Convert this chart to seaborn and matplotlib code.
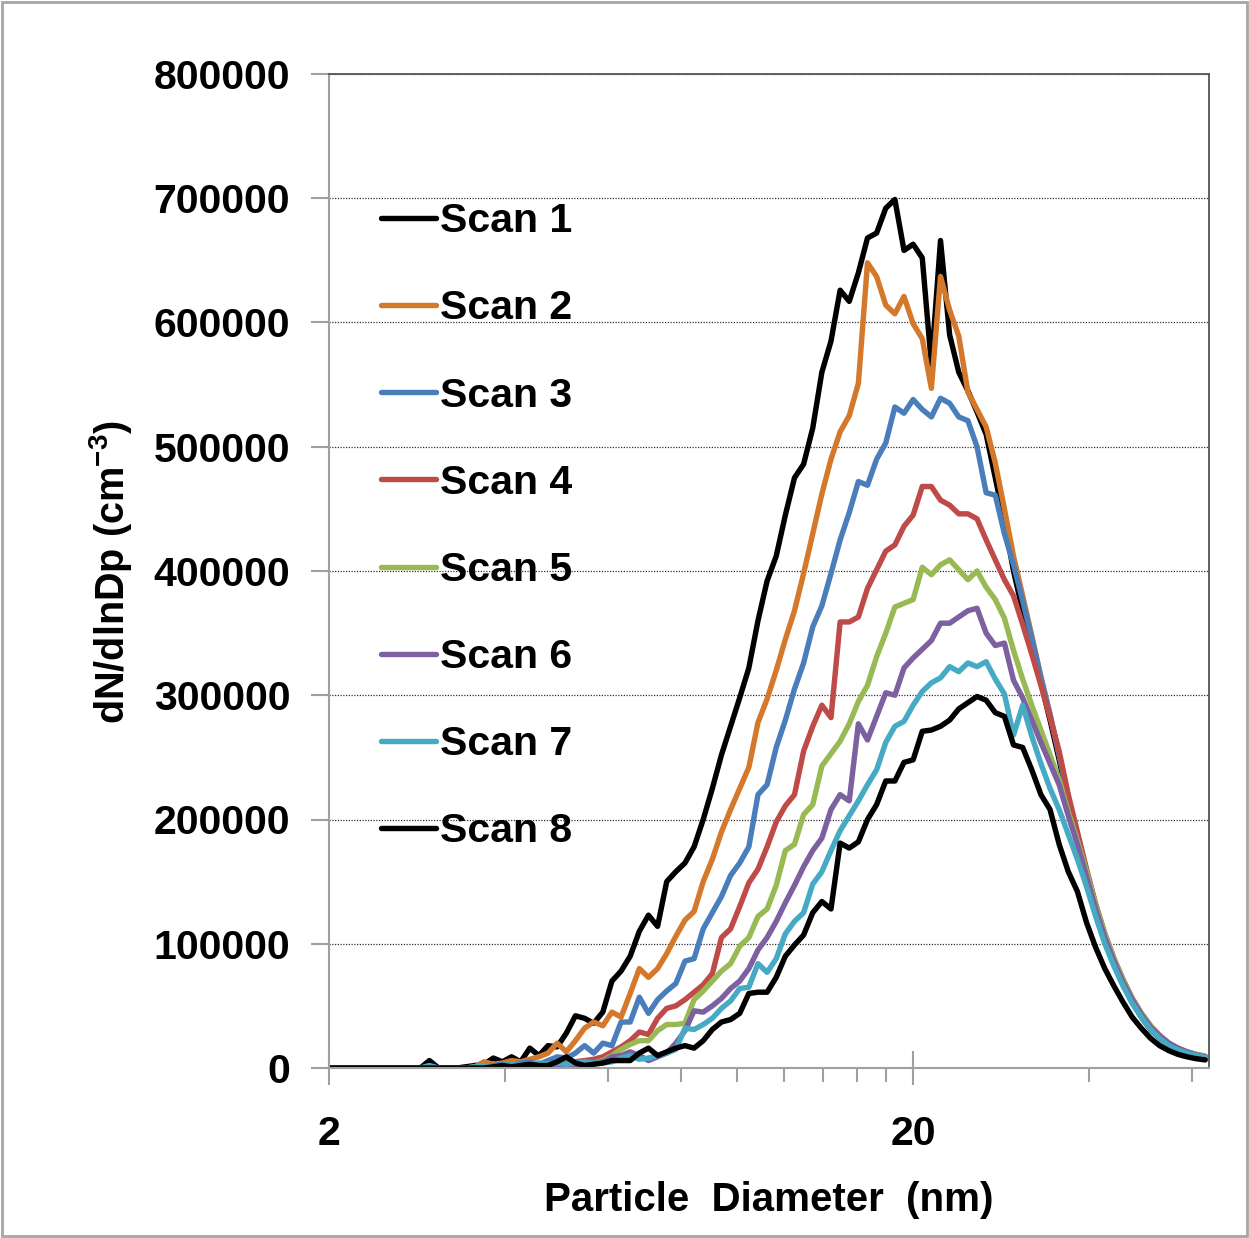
import numpy as np
import pandas as pd
import matplotlib
matplotlib.use('Agg')
import matplotlib.pyplot as plt
from matplotlib.patches import Rectangle
import seaborn as sns

# canais do SMPS: 64 por década, de 2 nm a ~63 nm
diametros = np.geomspace(2, 2 * 10 ** (96 / 64), 97)

# dN/dlnDp (em milhares de cm-3)
scan1 = [0] * 11 + [6] + [0, 0, 0, 1, 2] + [
    3, 8, 5, 9, 5, 16, 10, 18, 17, 28,
    42, 40, 36, 45, 70, 78, 90, 110, 123, 114,
    150, 158, 165, 178, 200, 225, 252, 275, 298, 322,
    360, 392, 412, 445, 475, 486, 515, 560, 585, 626,
    617, 640, 668, 672, 692, 699, 658, 663, 652, 566,
    666, 590, 560, 545, 528, 510, 475, 440, 400, 368,
    340, 310, 280, 248, 214, 184, 155, 128, 104, 84,
    67, 53, 41, 31, 24, 18, 14, 11.5, 9.5, 8]
scan2 = [0] * 16 + [
    1, 5, 3, 4, 6, 5, 7, 9, 12, 20,
    13, 22, 32, 37, 34, 45, 41, 60, 80, 73,
    80, 92, 106, 119, 126, 150, 168, 190, 208, 225,
    242, 278, 297, 320, 345, 368, 398, 430, 462, 490,
    512, 525, 551, 648, 637, 614, 607, 621, 599, 587,
    547, 637, 610, 589, 544, 530, 516, 487, 450, 412,
    380, 348, 315, 285, 252, 218, 187, 158, 130, 106,
    86, 70, 55, 43, 33, 25, 19, 15, 12, 10, 9]
scan3 = [0] * 16 + [
    0, 1, 2, 3, 2, 4, 5, 3, 6, 9,
    8, 12, 18, 12, 20, 18, 37, 37, 57, 44,
    55, 62, 68, 86, 88, 112, 125, 138, 155, 165,
    178, 220, 228, 258, 280, 305, 326, 355, 372, 398,
    425, 447, 472, 469, 490, 503, 532, 527, 538, 530,
    524, 539, 535, 524, 521, 500, 463, 461, 430, 405,
    376, 346, 314, 284, 252, 218, 188, 159, 131, 108,
    88, 71, 56, 44, 34, 26, 20, 15.5, 12.5, 10.5, 9]
scan4 = [0] * 19 + [
    1, 2, 1, 2, 3, 2, 3, 4, 5, 6,
    7, 9, 13, 17, 22, 29, 27, 40, 48, 50,
    55, 61, 67, 76, 105, 112, 130, 149, 160, 178,
    198, 211, 220, 255, 275, 292, 282, 359, 359, 363,
    386, 401, 416, 421, 436, 445, 468, 468, 457, 453,
    446, 446, 442, 425, 409, 393, 380, 357, 333, 308,
    282, 255, 220, 190, 160, 132, 108, 88, 71, 56,
    44, 34, 26, 20, 16, 13, 11, 9.5]
scan5 = [0] * 23 + [
    1, 1, 2, 2, 3, 3, 4, 6, 10, 15,
    19, 22, 22, 30, 35, 35, 36, 55, 62, 70,
    78, 84, 98, 105, 122, 128, 147, 175, 180, 204,
    212, 243, 253, 263, 277, 295, 308, 331, 350, 371,
    374, 377, 403, 397, 405, 409, 401, 393, 400, 387,
    377, 362, 336, 313, 292, 272, 252, 232, 206, 183,
    158, 131, 108, 88, 71, 56, 44, 34, 26, 20,
    16, 13, 11, 9.5]
scan6 = [0] * 23 + [
    1, 1, 1, 2, 2, 3, 4, 5, 9, 10,
    13, 10, 6, 9, 12, 20, 30, 46, 45, 50,
    56, 64, 70, 80, 95, 105, 118, 133, 147, 162,
    175, 185, 208, 220, 215, 277, 264, 283, 302, 300,
    322, 330, 337, 344, 358, 358, 363, 368, 370, 350,
    340, 342, 312, 298, 280, 262, 245, 228, 203, 180,
    154, 128, 105, 86, 69, 55, 43, 33, 26, 20,
    16, 13, 10.5, 9]
scan7 = [0] * 11 + [2] + [
    0, 0, 0, 0, 1, 2, 1, 2, 3, 2,
    3, 4, 3, 4, 3, 4, 5, 4, 4, 5,
    8, 10, 7, 8, 10, 12, 15, 32, 31, 35,
    40, 48, 54, 64, 65, 84, 77, 88, 108, 118,
    125, 148, 158, 175, 191, 203, 215, 228, 240, 262,
    275, 279, 292, 303, 310, 314, 323, 319, 326, 323,
    327, 313, 301, 268, 292, 267, 245, 225, 208, 188,
    168, 146, 122, 100, 82, 66, 52, 41, 31, 24,
    18, 14.5, 12, 10, 8.5]
scan8 = [0] * 18 + [
    1, 2, 1, 2, 3, 2, 2, 5, 9, 4,
    2, 3, 4, 6, 6, 6, 12, 16, 10, 13,
    16, 18, 16, 22, 31, 37, 39, 44, 60, 61,
    61, 73, 90, 99, 107, 125, 134, 128, 181, 177,
    182, 200, 212, 231, 231, 246, 248, 271, 272, 275,
    280, 289, 294, 299, 296, 286, 283, 260, 258, 240,
    220, 208, 180, 158, 142, 117, 97, 80, 66, 53,
    41, 32, 24, 18, 14, 11, 9, 7.5, 6.5]

series = [scan1, scan2, scan3, scan4, scan5, scan6, scan7, scan8]
nomes = ['Scan 1', 'Scan 2', 'Scan 3', 'Scan 4', 'Scan 5', 'Scan 6', 'Scan 7', 'Scan 8']
cores = ['#000000', '#D4792C', '#4A7EBB', '#BE4B48', '#98B954', '#7D60A0', '#46AAC5', '#000000']

yticks = [0, 100000, 200000, 300000, 400000, 500000, 600000, 700000, 800000]
xticks_major = [2, 20]
xticks_minor = [4, 6, 8, 10, 12, 14, 16, 18, 40, 60]

# tabela longa para o seaborn
frames = []
for nome, vals in zip(nomes, series):
    frames.append(pd.DataFrame({'Dp': diametros, 'dN': np.array(vals) * 1000, 'Scan': nome}))
df = pd.concat(frames, ignore_index=True)

sns.set_style('white')
plt.rcParams['font.family'] = ['Liberation Sans', 'DejaVu Sans']
plt.rcParams['text.color'] = 'black'
plt.rcParams['mathtext.fontset'] = 'custom'
plt.rcParams['mathtext.rm'] = 'Liberation Sans:bold'
plt.rcParams['mathtext.bf'] = 'Liberation Sans:bold'

fig = plt.figure(figsize=(12.49, 12.38), dpi=100)
ax = fig.add_axes([329 / 1249, 1 - 1068 / 1238, 880 / 1249, 994 / 1238])

sns.lineplot(data=df, x='Dp', y='dN', hue='Scan', hue_order=nomes, palette=cores,
             linewidth=3.9, ax=ax, legend=True, sort=False)

ax.set_xscale('log')
ax.set_xlim(2, 64.2)
ax.set_ylim(0, 800000)
ax.set_xticks(xticks_major)
ax.set_xticklabels([str(t) for t in xticks_major])
ax.set_xticks(xticks_minor, minor=True)
ax.set_xticklabels([], minor=True)
ax.set_yticks(yticks)
ax.set_yticklabels([str(t) for t in yticks])
for lbl in ax.get_xticklabels() + ax.get_yticklabels():
    lbl.set_fontweight('bold')

ax.tick_params(axis='y', direction='out', length=13, width=1.5, color='#A0A0A0',
               pad=15, labelsize=29.5, labelcolor='black', left=True)
ax.tick_params(axis='x', which='major', direction='inout', length=24, width=1.5,
               color='#A0A0A0', pad=22, labelsize=29.5, labelcolor='black', bottom=True)
ax.tick_params(axis='x', which='minor', direction='out', length=10, width=1.5,
               color='#A0A0A0', bottom=True)

ax.yaxis.grid(True, linestyle=(0, (1, 1.2)), color='#303030', linewidth=0.9)
ax.xaxis.grid(False)

for lado in ['left', 'bottom']:
    ax.spines[lado].set_color('#A0A0A0')
    ax.spines[lado].set_linewidth(1.5)
for lado in ['top', 'right']:
    ax.spines[lado].set_color('#555555')
    ax.spines[lado].set_linewidth(1.3)

ax.set_xlabel('')
ax.set_ylabel('')
fig.text(110 / 1249, 1 - 572 / 1238, r'dN/dlnDp (cm$^{-3}$)', rotation=90,
         ha='center', va='center', fontsize=28.5, fontweight='bold')
fig.text(769 / 1249, 1 - 1200 / 1238, 'Particle  Diameter  (nm)',
         ha='center', va='center', fontsize=29, fontweight='bold')

handles, labels = ax.get_legend_handles_labels()
for h in handles:
    h.set_linewidth(3.9)
leg = ax.legend(handles, labels, loc='upper left', bbox_to_anchor=(0.059, 0.871),
                frameon=False, fontsize=29.5, handlelength=1.35, handletextpad=0.08,
                labelspacing=1.2, borderpad=0, borderaxespad=0)
for t in leg.get_texts():
    t.set_fontweight('bold')

# moldura cinza em volta da figura
fig.patches.append(Rectangle((0.002, 0.002), 0.996, 0.996, transform=fig.transFigure,
                             fill=False, edgecolor='#A6A6A6', linewidth=2))

fig.savefig('out.png', dpi=100)
